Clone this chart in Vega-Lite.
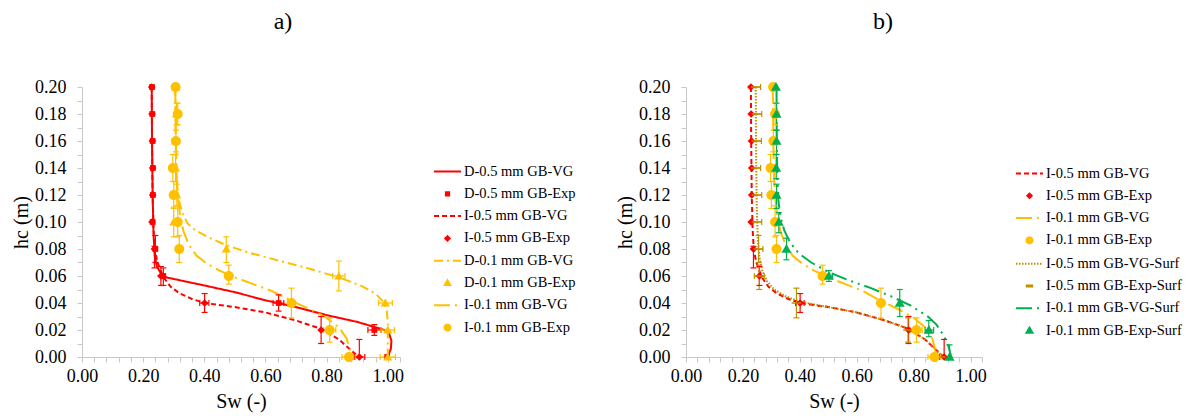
{
  "$schema": "https://vega.github.io/schema/vega-lite/v6.json",
  "padding": {"left": 11, "top": 10, "right": 5, "bottom": 5},
  "background": "white",
  "datasets": {
    "lines": [
      {"series": "D-0.5 mm GB-VG", "sw": 0.228, "hc": 0.20},
      {"series": "D-0.5 mm GB-VG", "sw": 0.229, "hc": 0.16},
      {"series": "D-0.5 mm GB-VG", "sw": 0.231, "hc": 0.12},
      {"series": "D-0.5 mm GB-VG", "sw": 0.234, "hc": 0.09},
      {"series": "D-0.5 mm GB-VG", "sw": 0.238, "hc": 0.075},
      {"series": "D-0.5 mm GB-VG", "sw": 0.245, "hc": 0.067},
      {"series": "D-0.5 mm GB-VG", "sw": 0.258, "hc": 0.062},
      {"series": "D-0.5 mm GB-VG", "sw": 0.275, "hc": 0.059},
      {"series": "D-0.5 mm GB-VG", "sw": 0.40, "hc": 0.053},
      {"series": "D-0.5 mm GB-VG", "sw": 0.50, "hc": 0.048},
      {"series": "D-0.5 mm GB-VG", "sw": 0.60, "hc": 0.042},
      {"series": "D-0.5 mm GB-VG", "sw": 0.70, "hc": 0.037},
      {"series": "D-0.5 mm GB-VG", "sw": 0.80, "hc": 0.031},
      {"series": "D-0.5 mm GB-VG", "sw": 0.90, "hc": 0.026},
      {"series": "D-0.5 mm GB-VG", "sw": 0.96, "hc": 0.022},
      {"series": "D-0.5 mm GB-VG", "sw": 0.99, "hc": 0.020},
      {"series": "D-0.5 mm GB-VG", "sw": 1.005, "hc": 0.017},
      {"series": "D-0.5 mm GB-VG", "sw": 1.012, "hc": 0.012},
      {"series": "D-0.5 mm GB-VG", "sw": 1.010, "hc": 0.006},
      {"series": "D-0.5 mm GB-VG", "sw": 1.0, "hc": 0.0},

      {"series": "I-0.5 mm GB-VG", "sw": 0.228, "hc": 0.20},
      {"series": "I-0.5 mm GB-VG", "sw": 0.229, "hc": 0.16},
      {"series": "I-0.5 mm GB-VG", "sw": 0.231, "hc": 0.12},
      {"series": "I-0.5 mm GB-VG", "sw": 0.234, "hc": 0.095},
      {"series": "I-0.5 mm GB-VG", "sw": 0.238, "hc": 0.08},
      {"series": "I-0.5 mm GB-VG", "sw": 0.245, "hc": 0.072},
      {"series": "I-0.5 mm GB-VG", "sw": 0.255, "hc": 0.065},
      {"series": "I-0.5 mm GB-VG", "sw": 0.27, "hc": 0.058},
      {"series": "I-0.5 mm GB-VG", "sw": 0.29, "hc": 0.052},
      {"series": "I-0.5 mm GB-VG", "sw": 0.32, "hc": 0.047},
      {"series": "I-0.5 mm GB-VG", "sw": 0.36, "hc": 0.043},
      {"series": "I-0.5 mm GB-VG", "sw": 0.40, "hc": 0.040},
      {"series": "I-0.5 mm GB-VG", "sw": 0.50, "hc": 0.037},
      {"series": "I-0.5 mm GB-VG", "sw": 0.60, "hc": 0.033},
      {"series": "I-0.5 mm GB-VG", "sw": 0.70, "hc": 0.027},
      {"series": "I-0.5 mm GB-VG", "sw": 0.78, "hc": 0.021},
      {"series": "I-0.5 mm GB-VG", "sw": 0.84, "hc": 0.013},
      {"series": "I-0.5 mm GB-VG", "sw": 0.865, "hc": 0.008},
      {"series": "I-0.5 mm GB-VG", "sw": 0.905, "hc": 0.0},

      {"series": "D-0.1 mm GB-VG", "sw": 0.305, "hc": 0.20},
      {"series": "D-0.1 mm GB-VG", "sw": 0.306, "hc": 0.17},
      {"series": "D-0.1 mm GB-VG", "sw": 0.308, "hc": 0.14},
      {"series": "D-0.1 mm GB-VG", "sw": 0.312, "hc": 0.125},
      {"series": "D-0.1 mm GB-VG", "sw": 0.318, "hc": 0.115},
      {"series": "D-0.1 mm GB-VG", "sw": 0.328, "hc": 0.107},
      {"series": "D-0.1 mm GB-VG", "sw": 0.345, "hc": 0.099},
      {"series": "D-0.1 mm GB-VG", "sw": 0.37, "hc": 0.094},
      {"series": "D-0.1 mm GB-VG", "sw": 0.41, "hc": 0.089},
      {"series": "D-0.1 mm GB-VG", "sw": 0.47, "hc": 0.083},
      {"series": "D-0.1 mm GB-VG", "sw": 0.55, "hc": 0.077},
      {"series": "D-0.1 mm GB-VG", "sw": 0.65, "hc": 0.071},
      {"series": "D-0.1 mm GB-VG", "sw": 0.75, "hc": 0.065},
      {"series": "D-0.1 mm GB-VG", "sw": 0.84, "hc": 0.059},
      {"series": "D-0.1 mm GB-VG", "sw": 0.91, "hc": 0.053},
      {"series": "D-0.1 mm GB-VG", "sw": 0.96, "hc": 0.047},
      {"series": "D-0.1 mm GB-VG", "sw": 0.985, "hc": 0.041},
      {"series": "D-0.1 mm GB-VG", "sw": 0.997, "hc": 0.034},
      {"series": "D-0.1 mm GB-VG", "sw": 1.0, "hc": 0.025},
      {"series": "D-0.1 mm GB-VG", "sw": 1.0, "hc": 0.0},

      {"series": "I-0.1 mm GB-VG", "sw": 0.305, "hc": 0.20},
      {"series": "I-0.1 mm GB-VG", "sw": 0.307, "hc": 0.16},
      {"series": "I-0.1 mm GB-VG", "sw": 0.31, "hc": 0.13},
      {"series": "I-0.1 mm GB-VG", "sw": 0.315, "hc": 0.115},
      {"series": "I-0.1 mm GB-VG", "sw": 0.322, "hc": 0.103},
      {"series": "I-0.1 mm GB-VG", "sw": 0.332, "hc": 0.093},
      {"series": "I-0.1 mm GB-VG", "sw": 0.35, "hc": 0.083},
      {"series": "I-0.1 mm GB-VG", "sw": 0.375, "hc": 0.075},
      {"series": "I-0.1 mm GB-VG", "sw": 0.41, "hc": 0.069},
      {"series": "I-0.1 mm GB-VG", "sw": 0.45, "hc": 0.064},
      {"series": "I-0.1 mm GB-VG", "sw": 0.50, "hc": 0.059},
      {"series": "I-0.1 mm GB-VG", "sw": 0.56, "hc": 0.054},
      {"series": "I-0.1 mm GB-VG", "sw": 0.62, "hc": 0.049},
      {"series": "I-0.1 mm GB-VG", "sw": 0.69, "hc": 0.041},
      {"series": "I-0.1 mm GB-VG", "sw": 0.75, "hc": 0.035},
      {"series": "I-0.1 mm GB-VG", "sw": 0.80, "hc": 0.029},
      {"series": "I-0.1 mm GB-VG", "sw": 0.84, "hc": 0.022},
      {"series": "I-0.1 mm GB-VG", "sw": 0.865, "hc": 0.014},
      {"series": "I-0.1 mm GB-VG", "sw": 0.875, "hc": 0.006},
      {"series": "I-0.1 mm GB-VG", "sw": 0.878, "hc": 0.0},

      {"series": "I-0.5 mm GB-VG-Surf", "sw": 0.245, "hc": 0.20},
      {"series": "I-0.5 mm GB-VG-Surf", "sw": 0.246, "hc": 0.16},
      {"series": "I-0.5 mm GB-VG-Surf", "sw": 0.248, "hc": 0.12},
      {"series": "I-0.5 mm GB-VG-Surf", "sw": 0.250, "hc": 0.10},
      {"series": "I-0.5 mm GB-VG-Surf", "sw": 0.253, "hc": 0.085},
      {"series": "I-0.5 mm GB-VG-Surf", "sw": 0.258, "hc": 0.074},
      {"series": "I-0.5 mm GB-VG-Surf", "sw": 0.268, "hc": 0.064},
      {"series": "I-0.5 mm GB-VG-Surf", "sw": 0.285, "hc": 0.056},
      {"series": "I-0.5 mm GB-VG-Surf", "sw": 0.31, "hc": 0.050},
      {"series": "I-0.5 mm GB-VG-Surf", "sw": 0.35, "hc": 0.045},
      {"series": "I-0.5 mm GB-VG-Surf", "sw": 0.40, "hc": 0.041},
      {"series": "I-0.5 mm GB-VG-Surf", "sw": 0.50, "hc": 0.037},
      {"series": "I-0.5 mm GB-VG-Surf", "sw": 0.60, "hc": 0.033},
      {"series": "I-0.5 mm GB-VG-Surf", "sw": 0.70, "hc": 0.027},
      {"series": "I-0.5 mm GB-VG-Surf", "sw": 0.78, "hc": 0.021},
      {"series": "I-0.5 mm GB-VG-Surf", "sw": 0.84, "hc": 0.013},
      {"series": "I-0.5 mm GB-VG-Surf", "sw": 0.865, "hc": 0.008},
      {"series": "I-0.5 mm GB-VG-Surf", "sw": 0.905, "hc": 0.0},

      {"series": "I-0.1 mm GB-VG-Surf", "sw": 0.318, "hc": 0.20},
      {"series": "I-0.1 mm GB-VG-Surf", "sw": 0.319, "hc": 0.16},
      {"series": "I-0.1 mm GB-VG-Surf", "sw": 0.321, "hc": 0.13},
      {"series": "I-0.1 mm GB-VG-Surf", "sw": 0.325, "hc": 0.115},
      {"series": "I-0.1 mm GB-VG-Surf", "sw": 0.332, "hc": 0.104},
      {"series": "I-0.1 mm GB-VG-Surf", "sw": 0.345, "hc": 0.094},
      {"series": "I-0.1 mm GB-VG-Surf", "sw": 0.365, "hc": 0.085},
      {"series": "I-0.1 mm GB-VG-Surf", "sw": 0.395, "hc": 0.077},
      {"series": "I-0.1 mm GB-VG-Surf", "sw": 0.44, "hc": 0.070},
      {"series": "I-0.1 mm GB-VG-Surf", "sw": 0.50, "hc": 0.063},
      {"series": "I-0.1 mm GB-VG-Surf", "sw": 0.57, "hc": 0.057},
      {"series": "I-0.1 mm GB-VG-Surf", "sw": 0.65, "hc": 0.051},
      {"series": "I-0.1 mm GB-VG-Surf", "sw": 0.72, "hc": 0.045},
      {"series": "I-0.1 mm GB-VG-Surf", "sw": 0.79, "hc": 0.038},
      {"series": "I-0.1 mm GB-VG-Surf", "sw": 0.85, "hc": 0.030},
      {"series": "I-0.1 mm GB-VG-Surf", "sw": 0.88, "hc": 0.024},
      {"series": "I-0.1 mm GB-VG-Surf", "sw": 0.905, "hc": 0.016},
      {"series": "I-0.1 mm GB-VG-Surf", "sw": 0.922, "hc": 0.008},
      {"series": "I-0.1 mm GB-VG-Surf", "sw": 0.932, "hc": 0.0}
    ],
    "pts": [
      {"series": "D-0.5 mm GB-Exp", "sw": 0.229, "hc": 0.20},
      {"series": "D-0.5 mm GB-Exp", "sw": 0.230, "hc": 0.18},
      {"series": "D-0.5 mm GB-Exp", "sw": 0.231, "hc": 0.16},
      {"series": "D-0.5 mm GB-Exp", "sw": 0.232, "hc": 0.14},
      {"series": "D-0.5 mm GB-Exp", "sw": 0.232, "hc": 0.12},
      {"series": "D-0.5 mm GB-Exp", "sw": 0.231, "hc": 0.10},
      {"series": "D-0.5 mm GB-Exp", "sw": 0.240, "hc": 0.08, "ylo": 0.07, "yhi": 0.09},
      {"series": "D-0.5 mm GB-Exp", "sw": 0.266, "hc": 0.06, "ylo": 0.053, "yhi": 0.066},
      {"series": "D-0.5 mm GB-Exp", "sw": 0.643, "hc": 0.04, "ylo": 0.034, "yhi": 0.046, "xlo": 0.625, "xhi": 0.66},
      {"series": "D-0.5 mm GB-Exp", "sw": 0.956, "hc": 0.02, "ylo": 0.016, "yhi": 0.024, "xlo": 0.935, "xhi": 0.978},
      {"series": "D-0.5 mm GB-Exp", "sw": 0.998, "hc": 0.0},

      {"series": "I-0.5 mm GB-Exp", "sw": 0.228, "hc": 0.20},
      {"series": "I-0.5 mm GB-Exp", "sw": 0.229, "hc": 0.18},
      {"series": "I-0.5 mm GB-Exp", "sw": 0.230, "hc": 0.16},
      {"series": "I-0.5 mm GB-Exp", "sw": 0.231, "hc": 0.14},
      {"series": "I-0.5 mm GB-Exp", "sw": 0.231, "hc": 0.12},
      {"series": "I-0.5 mm GB-Exp", "sw": 0.229, "hc": 0.10},
      {"series": "I-0.5 mm GB-Exp", "sw": 0.237, "hc": 0.08, "ylo": 0.066, "yhi": 0.082},
      {"series": "I-0.5 mm GB-Exp", "sw": 0.258, "hc": 0.06, "ylo": 0.053, "yhi": 0.067},
      {"series": "I-0.5 mm GB-Exp", "sw": 0.401, "hc": 0.04, "ylo": 0.033, "yhi": 0.047, "xlo": 0.385, "xhi": 0.415},
      {"series": "I-0.5 mm GB-Exp", "sw": 0.782, "hc": 0.02, "ylo": 0.010, "yhi": 0.030},
      {"series": "I-0.5 mm GB-Exp", "sw": 0.907, "hc": 0.0, "ylo": 0.0, "yhi": 0.013, "xlo": 0.89, "xhi": 0.925},

      {"series": "D-0.1 mm GB-Exp", "sw": 0.307, "hc": 0.20},
      {"series": "D-0.1 mm GB-Exp", "sw": 0.309, "hc": 0.18, "ylo": 0.172, "yhi": 0.188},
      {"series": "D-0.1 mm GB-Exp", "sw": 0.307, "hc": 0.16},
      {"series": "D-0.1 mm GB-Exp", "sw": 0.306, "hc": 0.14, "ylo": 0.13, "yhi": 0.15},
      {"series": "D-0.1 mm GB-Exp", "sw": 0.310, "hc": 0.12, "ylo": 0.112, "yhi": 0.128},
      {"series": "D-0.1 mm GB-Exp", "sw": 0.300, "hc": 0.10, "ylo": 0.089, "yhi": 0.111},
      {"series": "D-0.1 mm GB-Exp", "sw": 0.472, "hc": 0.08, "ylo": 0.07, "yhi": 0.089},
      {"series": "D-0.1 mm GB-Exp", "sw": 0.84, "hc": 0.06, "ylo": 0.049, "yhi": 0.071, "xlo": 0.82, "xhi": 0.86},
      {"series": "D-0.1 mm GB-Exp", "sw": 0.992, "hc": 0.04, "xlo": 0.97, "xhi": 1.015},
      {"series": "D-0.1 mm GB-Exp", "sw": 1.0, "hc": 0.02, "xlo": 0.978, "xhi": 1.022},
      {"series": "D-0.1 mm GB-Exp", "sw": 1.0, "hc": 0.0, "xlo": 0.975, "xhi": 1.025},

      {"series": "I-0.1 mm GB-Exp", "sw": 0.306, "hc": 0.20},
      {"series": "I-0.1 mm GB-Exp", "sw": 0.313, "hc": 0.18, "ylo": 0.172, "yhi": 0.188},
      {"series": "I-0.1 mm GB-Exp", "sw": 0.307, "hc": 0.16, "ylo": 0.152, "yhi": 0.168},
      {"series": "I-0.1 mm GB-Exp", "sw": 0.297, "hc": 0.14, "ylo": 0.13, "yhi": 0.15},
      {"series": "I-0.1 mm GB-Exp", "sw": 0.300, "hc": 0.12, "ylo": 0.11, "yhi": 0.13},
      {"series": "I-0.1 mm GB-Exp", "sw": 0.313, "hc": 0.10, "ylo": 0.089, "yhi": 0.112},
      {"series": "I-0.1 mm GB-Exp", "sw": 0.318, "hc": 0.08, "ylo": 0.07, "yhi": 0.09},
      {"series": "I-0.1 mm GB-Exp", "sw": 0.48, "hc": 0.06, "ylo": 0.054, "yhi": 0.068},
      {"series": "I-0.1 mm GB-Exp", "sw": 0.685, "hc": 0.04, "ylo": 0.029, "yhi": 0.051},
      {"series": "I-0.1 mm GB-Exp", "sw": 0.81, "hc": 0.02, "ylo": 0.011, "yhi": 0.029, "xlo": 0.79, "xhi": 0.83},
      {"series": "I-0.1 mm GB-Exp", "sw": 0.873, "hc": 0.0, "xlo": 0.85, "xhi": 0.895},

      {"series": "I-0.5 mm GB-Exp-Surf", "sw": 0.245, "hc": 0.20, "xlo": 0.228, "xhi": 0.262},
      {"series": "I-0.5 mm GB-Exp-Surf", "sw": 0.248, "hc": 0.18, "xlo": 0.23, "xhi": 0.266},
      {"series": "I-0.5 mm GB-Exp-Surf", "sw": 0.247, "hc": 0.16, "xlo": 0.23, "xhi": 0.265},
      {"series": "I-0.5 mm GB-Exp-Surf", "sw": 0.245, "hc": 0.14, "xlo": 0.228, "xhi": 0.262},
      {"series": "I-0.5 mm GB-Exp-Surf", "sw": 0.248, "hc": 0.12, "xlo": 0.23, "xhi": 0.266},
      {"series": "I-0.5 mm GB-Exp-Surf", "sw": 0.248, "hc": 0.10, "xlo": 0.23, "xhi": 0.266},
      {"series": "I-0.5 mm GB-Exp-Surf", "sw": 0.255, "hc": 0.08, "ylo": 0.07, "yhi": 0.09, "xlo": 0.24, "xhi": 0.27},
      {"series": "I-0.5 mm GB-Exp-Surf", "sw": 0.257, "hc": 0.06, "ylo": 0.05, "yhi": 0.068, "xlo": 0.24, "xhi": 0.275},
      {"series": "I-0.5 mm GB-Exp-Surf", "sw": 0.388, "hc": 0.04, "ylo": 0.029, "yhi": 0.051},
      {"series": "I-0.5 mm GB-Exp-Surf", "sw": 0.78, "hc": 0.02, "ylo": 0.011, "yhi": 0.029},
      {"series": "I-0.5 mm GB-Exp-Surf", "sw": 0.895, "hc": 0.0},

      {"series": "I-0.1 mm GB-Exp-Surf", "sw": 0.316, "hc": 0.20},
      {"series": "I-0.1 mm GB-Exp-Surf", "sw": 0.318, "hc": 0.18, "ylo": 0.168, "yhi": 0.188},
      {"series": "I-0.1 mm GB-Exp-Surf", "sw": 0.318, "hc": 0.16, "ylo": 0.15, "yhi": 0.168},
      {"series": "I-0.1 mm GB-Exp-Surf", "sw": 0.317, "hc": 0.14, "ylo": 0.132, "yhi": 0.15},
      {"series": "I-0.1 mm GB-Exp-Surf", "sw": 0.318, "hc": 0.12, "ylo": 0.11, "yhi": 0.128},
      {"series": "I-0.1 mm GB-Exp-Surf", "sw": 0.326, "hc": 0.10, "ylo": 0.092, "yhi": 0.107},
      {"series": "I-0.1 mm GB-Exp-Surf", "sw": 0.353, "hc": 0.08, "ylo": 0.072, "yhi": 0.088},
      {"series": "I-0.1 mm GB-Exp-Surf", "sw": 0.502, "hc": 0.06, "ylo": 0.056, "yhi": 0.064, "xlo": 0.49, "xhi": 0.515},
      {"series": "I-0.1 mm GB-Exp-Surf", "sw": 0.751, "hc": 0.04, "ylo": 0.030, "yhi": 0.050},
      {"series": "I-0.1 mm GB-Exp-Surf", "sw": 0.853, "hc": 0.02, "ylo": 0.015, "yhi": 0.027, "xlo": 0.84, "xhi": 0.87},
      {"series": "I-0.1 mm GB-Exp-Surf", "sw": 0.926, "hc": 0.0, "ylo": 0.0, "yhi": 0.009}
    ]
  },
  "spacing": 286,
  "bounds": "flush",
  "resolve": {
    "scale": {"color": "independent", "shape": "independent", "strokeDash": "independent"},
    "legend": {"color": "independent", "shape": "independent", "strokeDash": "independent"}
  },
  "hconcat": [
    {
      "name": "pa",
      "width": 318,
      "height": 270,
      "title": {"text": "a)", "fontSize": 24, "font": "Liberation Serif", "fontWeight": "normal", "color": "#000", "anchor": "middle", "dx": 42, "offset": 44},
      "encoding": {
        "x": {"field": "sw", "type": "quantitative", "scale": {"domain": [0, 1.04], "nice": false, "zero": false},
              "axis": {"title": "Sw (-)", "labelFont": "Liberation Serif", "titleFont": "Liberation Serif", "values": [0,0.04,0.08,0.12,0.16,0.2,0.24,0.28,0.32,0.36,0.4,0.44,0.48,0.52,0.56,0.6,0.64,0.68,0.72,0.76,0.8,0.84,0.88,0.92,0.96,1,1.04],
                       "labelExpr": "abs(datum.value*5 - round(datum.value*5)) < 0.001 ? format(datum.value, '.2f') : ''"}},
        "y": {"field": "hc", "type": "quantitative", "scale": {"domain": [0, 0.2], "nice": false, "zero": false},
              "axis": {"title": "hc (m)", "labelFont": "Liberation Serif", "titleFont": "Liberation Serif", "values": [0,0.01,0.02,0.03,0.04,0.05,0.06,0.07,0.08,0.09,0.1,0.11,0.12,0.13,0.14,0.15,0.16,0.17,0.18,0.19,0.2],
                       "labelExpr": "abs(datum.value*50 - round(datum.value*50)) < 0.001 ? format(datum.value, '.2f') : ''"}},
        "color": {"field": "series", "type": "nominal",
                  "scale": {"domain": ["D-0.5 mm GB-VG","D-0.5 mm GB-Exp","I-0.5 mm GB-VG","I-0.5 mm GB-Exp","D-0.1 mm GB-VG","D-0.1 mm GB-Exp","I-0.1 mm GB-VG","I-0.1 mm GB-Exp"],
                            "range": ["#FF0000","#FF0000","#FF0000","#FF0000","#FFC000","#FFC000","#FFC000","#FFC000"]},
                  "legend": {"orient": "none", "legendX": 351, "legendY": 70, "title": null}}
      },
      "layer": [
        {
          "data": {"name": "lines"},
          "transform": [{"filter": {"field": "series", "oneOf": ["D-0.5 mm GB-VG","I-0.5 mm GB-VG","D-0.1 mm GB-VG","I-0.1 mm GB-VG"]}}],
          "mark": {"type": "line", "strokeWidth": 2, "clip": false},
          "encoding": {
            "strokeDash": {"field": "series", "type": "nominal",
                           "scale": {"domain": ["D-0.5 mm GB-VG","D-0.5 mm GB-Exp","I-0.5 mm GB-VG","I-0.5 mm GB-Exp","D-0.1 mm GB-VG","D-0.1 mm GB-Exp","I-0.1 mm GB-VG","I-0.1 mm GB-Exp"],
                                     "range": [[1,0],[1,0],[5,3],[1,0],[9,4,2,4],[1,0],[16,5,2,5],[1,0]]}},
            "order": {"field": "hc", "sort": "descending"}
          }
        },
        {
          "data": {"name": "pts"},
          "transform": [{"filter": {"field": "series", "oneOf": ["D-0.5 mm GB-Exp","I-0.5 mm GB-Exp","D-0.1 mm GB-Exp","I-0.1 mm GB-Exp"]}}, {"filter": "isValid(datum.ylo)"}],
          "mark": {"type": "rule", "strokeWidth": 1.2},
          "encoding": {
            "y": {"field": "ylo", "type": "quantitative", "scale": {"domain": [0, 0.2], "nice": false, "zero": false}},
            "y2": {"field": "yhi"}
          }
        },
        {
          "data": {"name": "pts"},
          "transform": [{"filter": {"field": "series", "oneOf": ["D-0.5 mm GB-Exp","I-0.5 mm GB-Exp","D-0.1 mm GB-Exp","I-0.1 mm GB-Exp"]}}, {"filter": "isValid(datum.ylo)"}, {"fold": ["ylo", "yhi"], "as": ["k", "yv"]}],
          "mark": {"type": "tick", "orient": "horizontal", "size": 6, "thickness": 1.2, "opacity": 1},
          "encoding": {
            "y": {"field": "yv", "type": "quantitative", "scale": {"domain": [0, 0.2], "nice": false, "zero": false}}
          }
        },
        {
          "data": {"name": "pts"},
          "transform": [{"filter": {"field": "series", "oneOf": ["D-0.5 mm GB-Exp","I-0.5 mm GB-Exp","D-0.1 mm GB-Exp","I-0.1 mm GB-Exp"]}}, {"filter": "isValid(datum.xlo)"}],
          "mark": {"type": "rule", "strokeWidth": 1.2},
          "encoding": {
            "x": {"field": "xlo", "type": "quantitative", "scale": {"domain": [0, 1.04], "nice": false, "zero": false}},
            "x2": {"field": "xhi"}
          }
        },
        {
          "data": {"name": "pts"},
          "transform": [{"filter": {"field": "series", "oneOf": ["D-0.5 mm GB-Exp","I-0.5 mm GB-Exp","D-0.1 mm GB-Exp","I-0.1 mm GB-Exp"]}}, {"filter": "isValid(datum.xlo)"}, {"fold": ["xlo", "xhi"], "as": ["k", "xv"]}],
          "mark": {"type": "tick", "orient": "vertical", "size": 6, "thickness": 1.2, "opacity": 1},
          "encoding": {
            "x": {"field": "xv", "type": "quantitative", "scale": {"domain": [0, 1.04], "nice": false, "zero": false}}
          }
        },
        {
          "data": {"name": "pts"},
          "transform": [{"filter": {"field": "series", "oneOf": ["D-0.5 mm GB-Exp","I-0.5 mm GB-Exp"]}}],
          "mark": {"type": "point", "filled": true, "size": 2304, "opacity": 1, "strokeWidth": 0},
          "encoding": {
            "shape": {"field": "series", "type": "nominal",
                      "scale": {"domain": ["D-0.5 mm GB-VG","D-0.5 mm GB-Exp","I-0.5 mm GB-VG","I-0.5 mm GB-Exp","D-0.1 mm GB-VG","D-0.1 mm GB-Exp","I-0.1 mm GB-VG","I-0.1 mm GB-Exp"],
                                "range": ["M-1,0L1,0","M-0.12,-0.12L0.12,-0.12L0.12,0.12L-0.12,0.12Z","M-1,0L1,0","M0,-0.16L0.16,0L0,0.16L-0.16,0Z","M-1,0L1,0","M0,-0.2L0.2,0.15L-0.2,0.15Z","M-1,0L1,0","M0.22,0A0.22,0.22,0,1,1,-0.22,0A0.22,0.22,0,1,1,0.22,0Z"]}}
          }
        },
        {
          "data": {"name": "pts"},
          "transform": [{"filter": {"field": "series", "oneOf": ["D-0.1 mm GB-Exp","I-0.1 mm GB-Exp"]}}],
          "mark": {"type": "point", "filled": true, "size": 2070, "opacity": 1, "strokeWidth": 0},
          "encoding": {
            "shape": {"field": "series", "type": "nominal",
                      "scale": {"domain": ["D-0.5 mm GB-VG","D-0.5 mm GB-Exp","I-0.5 mm GB-VG","I-0.5 mm GB-Exp","D-0.1 mm GB-VG","D-0.1 mm GB-Exp","I-0.1 mm GB-VG","I-0.1 mm GB-Exp"],
                                "range": ["M-1,0L1,0","M-0.12,-0.12L0.12,-0.12L0.12,0.12L-0.12,0.12Z","M-1,0L1,0","M0,-0.16L0.16,0L0,0.16L-0.16,0Z","M-1,0L1,0","M0,-0.2L0.2,0.15L-0.2,0.15Z","M-1,0L1,0","M0.22,0A0.22,0.22,0,1,1,-0.22,0A0.22,0.22,0,1,1,0.22,0Z"]}}
          }
        }
      ]
    },
    {
      "name": "pb",
      "width": 296,
      "height": 270,
      "title": {"text": "b)", "fontSize": 24, "font": "Liberation Serif", "fontWeight": "normal", "color": "#000", "anchor": "middle", "dx": 49, "offset": 44},
      "encoding": {
        "x": {"field": "sw", "type": "quantitative", "scale": {"domain": [0, 1.04], "nice": false, "zero": false},
              "axis": {"title": "Sw (-)", "labelFont": "Liberation Serif", "titleFont": "Liberation Serif", "values": [0,0.04,0.08,0.12,0.16,0.2,0.24,0.28,0.32,0.36,0.4,0.44,0.48,0.52,0.56,0.6,0.64,0.68,0.72,0.76,0.8,0.84,0.88,0.92,0.96,1,1.04],
                       "labelExpr": "abs(datum.value*5 - round(datum.value*5)) < 0.001 ? format(datum.value, '.2f') : ''"}},
        "y": {"field": "hc", "type": "quantitative", "scale": {"domain": [0, 0.2], "nice": false, "zero": false},
              "axis": {"title": "hc (m)", "labelFont": "Liberation Serif", "titleFont": "Liberation Serif", "values": [0,0.01,0.02,0.03,0.04,0.05,0.06,0.07,0.08,0.09,0.1,0.11,0.12,0.13,0.14,0.15,0.16,0.17,0.18,0.19,0.2],
                       "labelExpr": "abs(datum.value*50 - round(datum.value*50)) < 0.001 ? format(datum.value, '.2f') : ''"}},
        "color": {"field": "series", "type": "nominal",
                  "scale": {"domain": ["I-0.5 mm GB-VG","I-0.5 mm GB-Exp","I-0.1 mm GB-VG","I-0.1 mm GB-Exp","I-0.5 mm GB-VG-Surf","I-0.5 mm GB-Exp-Surf","I-0.1 mm GB-VG-Surf","I-0.1 mm GB-Exp-Surf"],
                            "range": ["#FF0000","#FF0000","#FFC000","#FFC000","#BF9000","#BF9000","#00B050","#00B050"]},
                  "legend": {"orient": "none", "legendX": 329, "legendY": 72, "title": null}}
      },
      "layer": [
        {
          "data": {"name": "lines"},
          "transform": [{"filter": {"field": "series", "oneOf": ["I-0.5 mm GB-VG","I-0.1 mm GB-VG","I-0.5 mm GB-VG-Surf","I-0.1 mm GB-VG-Surf"]}}],
          "mark": {"type": "line", "strokeWidth": 2, "clip": false},
          "encoding": {
            "strokeDash": {"field": "series", "type": "nominal",
                           "scale": {"domain": ["I-0.5 mm GB-VG","I-0.5 mm GB-Exp","I-0.1 mm GB-VG","I-0.1 mm GB-Exp","I-0.5 mm GB-VG-Surf","I-0.5 mm GB-Exp-Surf","I-0.1 mm GB-VG-Surf","I-0.1 mm GB-Exp-Surf"],
                                     "range": [[5,3],[1,0],[16,5,2,5],[1,0],[1.5,1.5],[1,0],[16,5,2,5,2,5],[1,0]]}},
            "order": {"field": "hc", "sort": "descending"}
          }
        },
        {
          "data": {"name": "pts"},
          "transform": [{"filter": {"field": "series", "oneOf": ["I-0.5 mm GB-Exp","I-0.1 mm GB-Exp","I-0.5 mm GB-Exp-Surf","I-0.1 mm GB-Exp-Surf"]}}, {"filter": "isValid(datum.ylo)"}],
          "mark": {"type": "rule", "strokeWidth": 1.2},
          "encoding": {
            "y": {"field": "ylo", "type": "quantitative", "scale": {"domain": [0, 0.2], "nice": false, "zero": false}},
            "y2": {"field": "yhi"}
          }
        },
        {
          "data": {"name": "pts"},
          "transform": [{"filter": {"field": "series", "oneOf": ["I-0.5 mm GB-Exp","I-0.1 mm GB-Exp","I-0.5 mm GB-Exp-Surf","I-0.1 mm GB-Exp-Surf"]}}, {"filter": "isValid(datum.ylo)"}, {"fold": ["ylo", "yhi"], "as": ["k", "yv"]}],
          "mark": {"type": "tick", "orient": "horizontal", "size": 6, "thickness": 1.2, "opacity": 1},
          "encoding": {
            "y": {"field": "yv", "type": "quantitative", "scale": {"domain": [0, 0.2], "nice": false, "zero": false}}
          }
        },
        {
          "data": {"name": "pts"},
          "transform": [{"filter": {"field": "series", "oneOf": ["I-0.5 mm GB-Exp","I-0.1 mm GB-Exp","I-0.5 mm GB-Exp-Surf","I-0.1 mm GB-Exp-Surf"]}}, {"filter": "isValid(datum.xlo)"}],
          "mark": {"type": "rule", "strokeWidth": 1.2},
          "encoding": {
            "x": {"field": "xlo", "type": "quantitative", "scale": {"domain": [0, 1.04], "nice": false, "zero": false}},
            "x2": {"field": "xhi"}
          }
        },
        {
          "data": {"name": "pts"},
          "transform": [{"filter": {"field": "series", "oneOf": ["I-0.5 mm GB-Exp","I-0.1 mm GB-Exp","I-0.5 mm GB-Exp-Surf","I-0.1 mm GB-Exp-Surf"]}}, {"filter": "isValid(datum.xlo)"}, {"fold": ["xlo", "xhi"], "as": ["k", "xv"]}],
          "mark": {"type": "tick", "orient": "vertical", "size": 6, "thickness": 1.2, "opacity": 1},
          "encoding": {
            "x": {"field": "xv", "type": "quantitative", "scale": {"domain": [0, 1.04], "nice": false, "zero": false}}
          }
        },
        {
          "data": {"name": "pts"},
          "transform": [{"filter": {"field": "series", "oneOf": ["I-0.5 mm GB-Exp","I-0.5 mm GB-Exp-Surf"]}}],
          "mark": {"type": "point", "filled": true, "size": 2304, "opacity": 1, "strokeWidth": 0},
          "encoding": {
            "shape": {"field": "series", "type": "nominal",
                      "scale": {"domain": ["I-0.5 mm GB-VG","I-0.5 mm GB-Exp","I-0.1 mm GB-VG","I-0.1 mm GB-Exp","I-0.5 mm GB-VG-Surf","I-0.5 mm GB-Exp-Surf","I-0.1 mm GB-VG-Surf","I-0.1 mm GB-Exp-Surf"],
                                "range": ["M-1,0L1,0","M0,-0.16L0.16,0L0,0.16L-0.16,0Z","M-1,0L1,0","M0.22,0A0.22,0.22,0,1,1,-0.22,0A0.22,0.22,0,1,1,0.22,0Z","M-1,0L1,0","M-0.2,-0.03L0.2,-0.03L0.2,0.03L-0.2,0.03Z","M-1,0L1,0","M0,-0.22L0.22,0.16L-0.22,0.16Z"]}}
          }
        },
        {
          "data": {"name": "pts"},
          "transform": [{"filter": {"field": "series", "oneOf": ["I-0.1 mm GB-Exp","I-0.1 mm GB-Exp-Surf"]}}],
          "mark": {"type": "point", "filled": true, "size": 2070, "opacity": 1, "strokeWidth": 0},
          "encoding": {
            "shape": {"field": "series", "type": "nominal",
                      "scale": {"domain": ["I-0.5 mm GB-VG","I-0.5 mm GB-Exp","I-0.1 mm GB-VG","I-0.1 mm GB-Exp","I-0.5 mm GB-VG-Surf","I-0.5 mm GB-Exp-Surf","I-0.1 mm GB-VG-Surf","I-0.1 mm GB-Exp-Surf"],
                                "range": ["M-1,0L1,0","M0,-0.16L0.16,0L0,0.16L-0.16,0Z","M-1,0L1,0","M0.22,0A0.22,0.22,0,1,1,-0.22,0A0.22,0.22,0,1,1,0.22,0Z","M-1,0L1,0","M-0.2,-0.03L0.2,-0.03L0.2,0.03L-0.2,0.03Z","M-1,0L1,0","M0,-0.22L0.22,0.16L-0.22,0.16Z"]}}
          }
        }
      ]
    }
  ],
  "config": {
    "view": {"stroke": null},
    "font": "Liberation Serif",
    "style": {
      "guide-label": {"font": "Liberation Serif"},
      "guide-title": {"font": "Liberation Serif"}
    },
    "axis": {
      "grid": false,
      "domainColor": "#C8C8C8",
      "tickColor": "#C8C8C8",
      "tickSize": 5,
      "labelFont": "Liberation Serif",
      "labelFontSize": 18,
      "labelColor": "#000",
      "labelOverlap": false,
      "labelFlush": false,
      "titleFont": "Liberation Serif",
      "titleFontSize": 20,
      "titleFontWeight": "normal",
      "titleColor": "#000"
    },
    "axisX": {"labelPadding": 5, "titlePadding": 6},
    "axisY": {"labelPadding": 11, "titlePadding": 3},
    "legend": {
      "labelFont": "Liberation Serif",
      "labelFontSize": 14.5,
      "labelColor": "#000",
      "labelOffset": 2,
      "labelLimit": 400,
      "rowPadding": 1.3,
      "padding": 0,
      "symbolSize": 729,
      "symbolStrokeWidth": 2,
      "symbolOpacity": 1
    }
  }
}
